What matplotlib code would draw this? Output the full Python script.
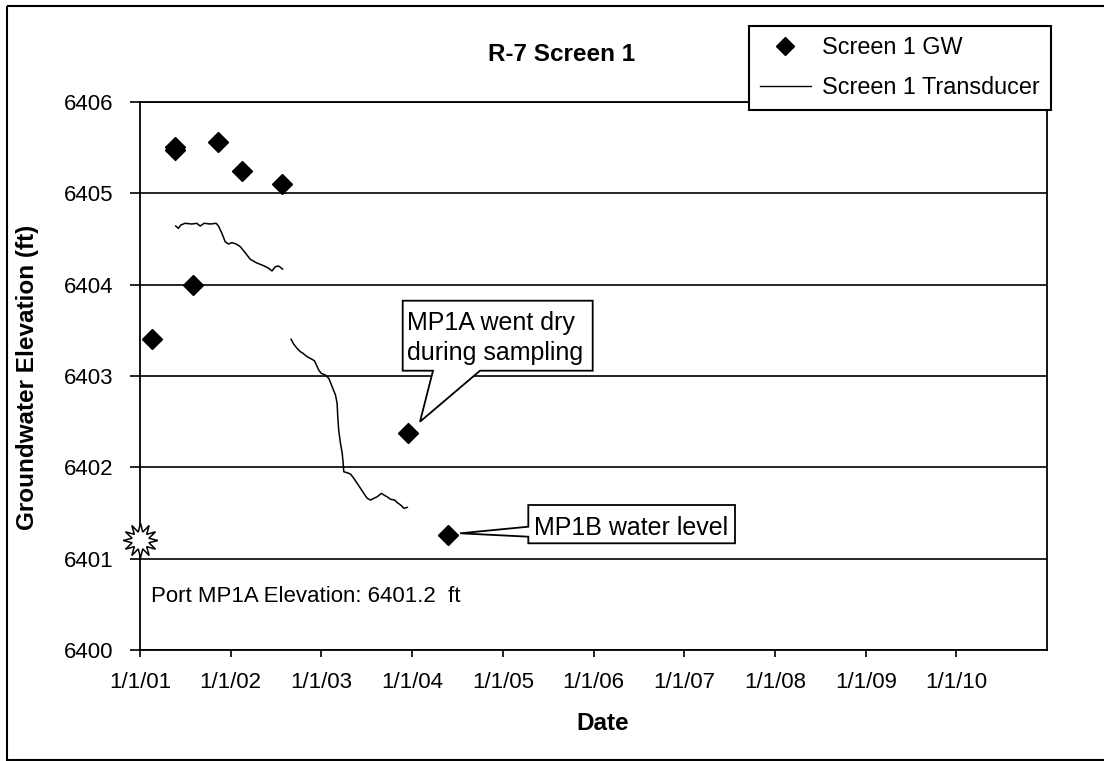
# R-7 Screen 1 groundwater elevation chart
import numpy as np
import pandas as pd
import matplotlib
matplotlib.use('Agg')
import matplotlib.pyplot as plt
from matplotlib.patches import Polygon, Rectangle
from matplotlib.lines import Line2D
from matplotlib.transforms import Affine2D

plt.rcParams['font.family'] = ['Liberation Sans', 'DejaVu Sans']

# data (decimal years)
gw_years = [2001.13, 2001.39, 2001.39, 2001.58, 2001.86, 2002.12, 2002.57, 2003.95, 2004.39]
gw_elev = [6403.41, 6405.51, 6405.47, 6404.00, 6405.56, 6405.25, 6405.10, 6402.38, 6401.26]

trans1_years = [2001.394, 2001.423, 2001.45, 2001.497, 2001.571, 2001.626, 2001.663, 2001.707,
                2001.773, 2001.84, 2001.865, 2001.903, 2001.939, 2001.976, 2002.013, 2002.061,
                2002.105, 2002.16, 2002.215, 2002.282, 2002.362, 2002.418, 2002.455, 2002.492,
                2002.528, 2002.572]
trans1_elev = [6404.642, 6404.617, 6404.653, 6404.672, 6404.664, 6404.672, 6404.642, 6404.672,
               6404.664, 6404.672, 6404.642, 6404.562, 6404.47, 6404.445, 6404.46, 6404.445,
               6404.416, 6404.35, 6404.278, 6404.24, 6404.208, 6404.18, 6404.15, 6404.197,
               6404.204, 6404.171]

trans2_years = [2002.665, 2002.694, 2002.731, 2002.768, 2002.798, 2002.842, 2002.878, 2002.923,
                2002.945, 2002.97, 2002.997, 2003.044, 2003.081, 2003.118, 2003.155, 2003.173,
                2003.18, 2003.19, 2003.21, 2003.229, 2003.24, 2003.246, 2003.284, 2003.32,
                2003.357, 2003.394, 2003.431, 2003.467, 2003.505, 2003.541, 2003.578, 2003.615,
                2003.66, 2003.689, 2003.733, 2003.762, 2003.807, 2003.837, 2003.873, 2003.91,
                2003.947]
trans2_elev = [6403.402, 6403.35, 6403.303, 6403.266, 6403.248, 6403.211, 6403.193, 6403.167,
               6403.12, 6403.066, 6403.03, 6403.01, 6402.975, 6402.883, 6402.792, 6402.701,
               6402.555, 6402.41, 6402.263, 6402.154, 6402.044, 6401.952, 6401.941, 6401.927,
               6401.88, 6401.825, 6401.77, 6401.715, 6401.661, 6401.642, 6401.661, 6401.678,
               6401.715, 6401.697, 6401.672, 6401.65, 6401.642, 6401.613, 6401.588, 6401.551,
               6401.562]

port_date = '2001-01-01'
port_elev = 6401.2

tick_dates = ['2001-01-01', '2002-01-01', '2003-01-01', '2004-01-01', '2005-01-01',
              '2006-01-01', '2007-01-01', '2008-01-01', '2009-01-01', '2010-01-01']
tick_labels = ['1/1/01', '1/1/02', '1/1/03', '1/1/04', '1/1/05',
               '1/1/06', '1/1/07', '1/1/08', '1/1/09', '1/1/10']
y_ticks = [6400, 6401, 6402, 6403, 6404, 6405, 6406]


def to_dates(years):
    years = np.array(years)
    return pd.Timestamp('2001-01-01') + pd.to_timedelta((years - 2001) * 365.25, unit='D')


W, H = 1104, 761
fig = plt.figure(figsize=(W / 100, H / 100), dpi=100)
ax = fig.add_axes([140 / W, 1 - 650 / H, (1047 - 140) / W, (650 - 102) / H])
px = Affine2D().scale(1, -1).translate(0, H)  # pixel coords from top-left

# data
ax.plot(to_dates(trans1_years), trans1_elev, color='black', lw=1.1, zorder=3)
ax.plot(to_dates(trans2_years), trans2_elev, color='black', lw=1.1, zorder=3)
ax.plot(to_dates(gw_years), gw_elev, 'D', color='black', ms=10, ls='none', zorder=4)
ax.plot(pd.Timestamp(port_date), port_elev, marker=(12, 1, 0), ms=25, mfc='white',
        mec='black', mew=1.1, clip_on=False, zorder=6)

ax.set_xlim(pd.Timestamp('2001-01-01'), pd.Timestamp('2011-01-01'))
ax.set_ylim(6400, 6406)
ax.set_xticks(pd.to_datetime(tick_dates))
ax.set_xticklabels(tick_labels)
ax.set_yticks(y_ticks)
ax.yaxis.grid(True, color='black', lw=1.2)
ax.set_axisbelow(True)
for s in ax.spines.values():
    s.set_linewidth(1.3)
ax.tick_params(axis='y', direction='out', length=7, width=1.2, labelsize=16, pad=12)
ax.tick_params(axis='x', direction='out', length=5, width=1.2, labelsize=16, pad=11)

# legend
handles = [Line2D([], [], marker='D', color='black', ls='none', ms=9),
           Line2D([], [], color='black', lw=1.0)]
leg = ax.legend(handles, ['Screen 1 GW', 'Screen 1 Transducer'], loc='upper left',
                bbox_to_anchor=(749, 26), bbox_transform=px, borderaxespad=0,
                fancybox=False, framealpha=1, edgecolor='black', fontsize=16.8,
                handlelength=2.2, handletextpad=0.5, borderpad=0.45, labelspacing=0.72)
leg.get_frame().set_linewidth(1.5)
leg.set_zorder(10)

# titles
fig.text(562, 61, 'R-7 Screen 1', transform=px, ha='center', va='baseline',
         fontsize=17.5, fontweight='bold')
fig.text(27.5, 377, 'Groundwater Elevation (ft)', transform=px, rotation=90,
         ha='center', va='center', fontsize=17.5, fontweight='bold')
fig.text(603, 730, 'Date', transform=px, ha='center', va='baseline',
         fontsize=17.5, fontweight='bold')
fig.text(151, 601.7, 'Port MP1A Elevation: 6401.2  ft', transform=px, ha='left',
         va='baseline', fontsize=16)

# callouts
mp1a = [(402.7, 300.7), (592.7, 300.7), (592.7, 370.7), (480, 370.7), (420, 421.7),
        (433, 370.7), (402.7, 370.7)]
fig.add_artist(Polygon(mp1a, closed=True, transform=px, facecolor='white',
                       edgecolor='black', lw=1.3, zorder=5))
fig.text(406.7, 330, 'MP1A went dry', transform=px, ha='left', va='baseline',
         fontsize=18, zorder=6)
fig.text(406.7, 360, 'during sampling', transform=px, ha='left', va='baseline',
         fontsize=18, zorder=6)

mp1b = [(528.3, 505), (735, 505), (735, 543.3), (528.3, 543.3), (528.3, 536.7),
        (460, 533.3), (528.3, 526.7)]
fig.add_artist(Polygon(mp1b, closed=True, transform=px, facecolor='white',
                       edgecolor='black', lw=1.3, zorder=5))
fig.text(534, 535, 'MP1B water level', transform=px, ha='left', va='baseline',
         fontsize=18, zorder=6)

# chart area border
fig.add_artist(Rectangle((7, 6), 1200, 754, transform=px, fill=False,
                         edgecolor='black', lw=1.5))

fig.savefig('out.png', dpi=100)
